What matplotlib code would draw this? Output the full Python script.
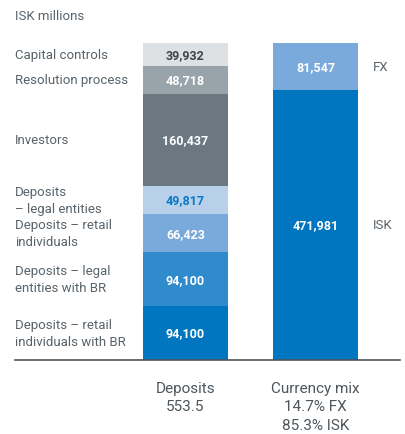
import matplotlib
matplotlib.use("Agg")
import matplotlib.pyplot as plt
import numpy as np

plt.rcParams['font.family'] = ['Roboto', 'DejaVu Sans']

# Deposits breakdown, bottom to top
dep_labels = ["Deposits – retail\nindividuals with BR",
              "Deposits – legal\nentities with BR",
              "Deposits – retail\nindividuals",
              "Deposits\n– legal entities",
              "Investors",
              "Resolution process",
              "Capital controls"]
dep_values = [94100, 94100, 66423, 49817, 160437, 48718, 39932]
dep_colors = ["#0075c0", "#2f8bcc", "#7aaadb", "#b8d0ea", "#6b7882", "#99a3aa", "#dde1e4"]
dep_text_colors = ["white", "white", "white", "#0a78c2", "white", "white", "#3d464d"]

# Currency mix, bottom to top
cur_labels = ["ISK", "FX"]
cur_values = [471981, 81547]
cur_colors = ["#0075c0", "#7aaadb"]

tick_labels = ["Deposits\n553.5", "Currency mix\n14.7% FX\n85.3% ISK"]

W, H = 406, 435
fig = plt.figure(figsize=(W / 100, H / 100), dpi=100)
# axes spans px x 15..400, y 44..361
ax = fig.add_axes([15 / W, (H - 361) / H, 385 / W, 317 / H])

width = 85 / 130
gray = "#59636a"

bottom = 0
for lab, v, c, tc in zip(dep_labels, dep_values, dep_colors, dep_text_colors):
    ax.bar(0, v, width=width, bottom=bottom, color=c, linewidth=0)
    mid = bottom + v / 2
    ax.text(0, mid, f"{v:,}", ha="center", va="center", color=tc,
            fontsize=9, fontweight="bold")
    ax.text(0.0, mid, lab, transform=ax.get_yaxis_transform(), ha="left",
            va="center", color=gray, fontsize=9.5, linespacing=1.4)
    bottom += v

bottom = 0
for lab, v, c in zip(cur_labels, cur_values, cur_colors):
    ax.bar(1, v, width=width, bottom=bottom, color=c, linewidth=0)
    mid = bottom + v / 2
    ax.text(1, mid, f"{v:,}", ha="center", va="center", color="white",
            fontsize=9, fontweight="bold")
    ax.text(1 + width / 2 + 0.115, mid, lab, ha="left", va="center",
            color=gray, fontsize=9.5)
    bottom += v

ax.set_xlim(-170.5 / 130, 214.5 / 130)
ax.set_ylim(0, sum(dep_values))
for s in ["top", "left", "right"]:
    ax.spines[s].set_visible(False)
ax.spines["bottom"].set_color("#4a545b")
ax.spines["bottom"].set_linewidth(1.2)
ax.set_yticks([])
ax.set_xticks([0, 1])
ax.set_xticklabels(tick_labels, fontsize=11, color="#4d565c", linespacing=1.4)
ax.tick_params(axis="x", length=0, pad=15)

fig.text(15 / W, 1 - 17 / H, "ISK millions", ha="left", va="center",
         color=gray, fontsize=9.5)

fig.savefig("out.png", dpi=100)
